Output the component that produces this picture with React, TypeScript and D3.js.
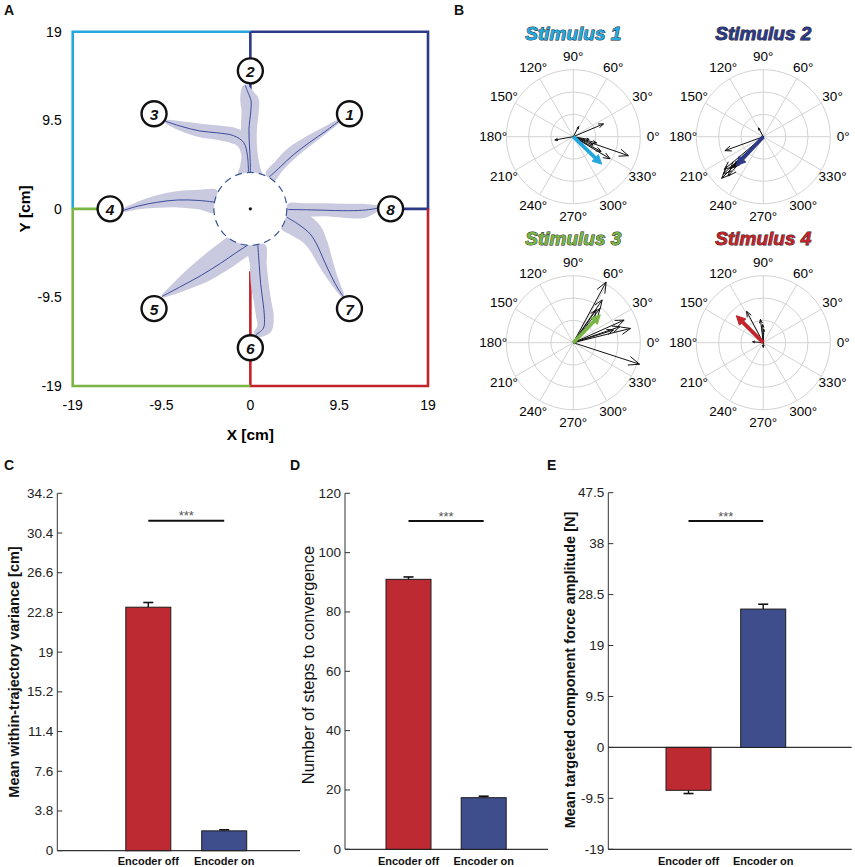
import * as d3 from "d3";

const FONT = "'Liberation Sans', Arial, Helvetica, sans-serif";
const CYAN = "#22a8df";
const NAVY = "#2c3a88";
const RED = "#c4232b";
const GREEN = "#79b543";
const BAND = "#c9c9df";
const MEAN_LINE = "#3b4c9c";
const BAR_RED = "#be2a32";
const BAR_BLUE = "#3e4e8c";
const GRID = "#d3d3d3";

// ---- panel A: workspace (cm) ----
const POS_TICKS = [-19, -9.5, 0, 9.5, 19];
const TARGETS: [number, number][] = [
  [10.6, 10.2], [0, 14.8], [-10.3, 10.2], [-15.0, 0],
  [-10.3, -10.7], [0, -14.9], [10.6, -10.7], [15.0, 0],
];
// quadrant borders per stimulus
const BORDER_CYAN: [number, number][] = [[-19, 0], [-19, 19], [0, 19]];
const BORDER_NAVY: [number, number][] = [[0, 19], [19, 19], [19, 0], [15, 0]];
const BORDER_NAVY_MID: [number, number][] = [[0, 19], [0, 12.7]];
const BORDER_RED: [number, number][] = [[19, 0], [19, -19], [0, -19], [0, -6.7]];
const BORDER_GREEN: [number, number][] = [[0, -19], [-19, -19], [-19, 0], [-15, 0]];

// trajectories: [x, y, left half-width, right half-width] in cm, centre -> target
const TRAJ_1 = [[2.0, 3.4, 0.55, 0.65], [3.2, 4.5, 0.8, 0.45], [4.6, 5.8, 0.9, 0.4], [6.3, 7.1, 0.75, 0.35], [8.0, 8.3, 0.5, 0.25], [9.6, 9.5, 0.1, 0.1]];
const TRAJ_2 = [[0, 3.6, 1.3, 1.2], [0, 4.6, 1.1, 1.0], [-0.07, 6.3, 0.8, 0.8], [-0.15, 8.5, 0.85, 0.85], [0.05, 10.5, 1.0, 0.85], [0.07, 11.6, 1.15, 0.85], [-0.3, 12.6, 0.8, 0.5], [-0.55, 13.25, 0.3, 0.2]];
const TRAJ_3 = [[-0.2, 3.8, 0.5, 0.5], [-0.3, 5.6, 0.6, 0.6], [-0.7, 7.1, 0.75, 0.95], [-1.8, 7.85, 0.85, 0.85], [-3.5, 8.15, 0.75, 0.8], [-5.4, 8.35, 0.65, 0.8], [-7.4, 8.85, 0.5, 0.55], [-9.1, 9.4, 0.12, 0.12]];
const TRAJ_4 = [[-3.7, 0.7, 1.1, 1.3], [-5.5, 0.9, 0.95, 1.15], [-7.8, 0.95, 0.8, 0.95], [-10.0, 0.7, 0.6, 0.75], [-12.0, 0.3, 0.35, 0.45], [-13.7, -0.2, 0.1, 0.1]];
const TRAJ_5 = [[-0.3, -3.9, 0.8, 1.9], [-1.6, -4.75, 1.0, 1.9], [-3.2, -5.85, 1.0, 1.8], [-5.2, -7.1, 0.9, 1.5], [-7.2, -8.2, 0.6, 0.95], [-8.6, -8.95, 0.35, 0.45], [-9.45, -9.4, 0.1, 0.1]];
const TRAJ_6 = [[0.8, -3.9, 0.8, 1.0], [0.95, -6.0, 0.8, 1.0], [1.1, -8.0, 0.85, 1.05], [1.35, -10.0, 0.9, 0.95], [1.5, -11.5, 1.0, 0.9], [1.4, -12.8, 0.9, 0.7], [0.6, -13.5, 0.3, 0.3]];
const TRAJ_7 = [[3.9, -0.9, 0.9, 1.3], [5.2, -1.7, 1.4, 1.4], [6.4, -2.7, 1.4, 1.2], [7.2, -4.0, 1.15, 0.95], [7.9, -5.6, 0.9, 0.75], [8.7, -7.3, 0.6, 0.5], [9.4, -8.6, 0.4, 0.3], [10.0, -9.5, 0.1, 0.1]];
const TRAJ_8 = [[4.0, -0.07, 0.6, 0.75], [6.0, -0.1, 0.7, 0.75], [8.0, -0.15, 0.75, 0.65], [10.0, -0.2, 0.75, 0.75], [12.0, -0.15, 0.7, 0.85], [13.2, 0, 0.45, 0.5], [13.9, 0.15, 0.15, 0.15]];
const TRAJECTORIES = [TRAJ_1, TRAJ_2, TRAJ_3, TRAJ_4, TRAJ_5, TRAJ_6, TRAJ_7, TRAJ_8];
const CENTER_RADIUS = 3.9;

// ---- panel B: compass plots, [angle deg, normalised length] ----
const ANGLE_TICKS = d3.range(0, 360, 30);
const STIM1_ARROWS = [[23, 0.49], [190, 0.28], [62, 0.17], [341, 0.87], [329, 0.64], [345, 0.36], [337, 0.32], [332, 0.47], [350, 0.24]];
const STIM1_MEAN = [316, 0.59];
const STIM2_ARROWS = [[200, 0.61], [119, 0.15], [225, 0.88], [223, 0.82], [220, 0.76], [224, 0.69], [228, 0.79], [226, 0.64]];
const STIM2_MEAN = [227, 0.59];
const STIM3_ARROWS = [[61.6, 1.03], [56, 0.77], [52, 0.65], [55, 0.6], [24, 0.83], [14, 0.88], [19, 0.74], [17.5, 0.63], [342, 1.04]];
const STIM3_MEAN = [46, 0.58];
const STIM4_ARROWS = [[118, 0.53], [97, 0.35], [92, 0.27], [88, 0.2], [175, 0.16], [270, 0.07]];
const STIM4_MEAN = [135, 0.57];

// ---- panels C-E ----
const CATEGORIES = ["Encoder off", "Encoder on"];
const VARIANCE_MEAN = [23.3, 1.9];
const VARIANCE_ERR = [0.45, 0.1];
const VARIANCE_TICKS = [0, 3.8, 7.6, 11.4, 15.2, 19, 22.8, 26.6, 30.4, 34.2];
const STEPS_MEAN = [91.0, 17.4];
const STEPS_ERR = [0.8, 0.5];
const STEPS_TICKS = [0, 20, 40, 60, 80, 100, 120];
const FORCE_MEAN = [-8.0, 25.8];
const FORCE_ERR = [0.6, 0.9];
const FORCE_TICKS = [-19, -9.5, 0, 9.5, 19, 28.5, 38, 47.5];

const posX = d3.scaleLinear().domain([-19, 19]).range([72.7, 428]);
const posY = d3.scaleLinear().domain([-19, 19]).range([386, 31.7]);
const pxLine = d3.line<[number, number]>().x((d) => posX(d[0])).y((d) => posY(d[1]));

function bandPath(pts: number[][]) {
  const left: [number, number][] = [];
  const right: [number, number][] = [];
  pts.forEach((p, i) => {
    const a = pts[Math.max(0, i - 1)];
    const b = pts[Math.min(pts.length - 1, i + 1)];
    const tx = b[0] - a[0];
    const ty = b[1] - a[1];
    const len = Math.hypot(tx, ty) || 1;
    const nx = -ty / len;
    const ny = tx / len;
    left.push([p[0] + nx * p[2], p[1] + ny * p[2]]);
    right.push([p[0] - nx * p[3], p[1] - ny * p[3]]);
  });
  const poly = left.concat(right.reverse());
  return d3.line<[number, number]>().x((d) => posX(d[0])).y((d) => posY(d[1])).curve(d3.curveCatmullRomClosed)(poly) ?? "";
}

function PanelA() {
  const meanLine = d3.line<number[]>().x((d) => posX(d[0])).y((d) => posY(d[1])).curve(d3.curveCatmullRom);
  const borders: [[number, number][], string][] = [
    [BORDER_CYAN, CYAN], [BORDER_NAVY, NAVY], [BORDER_NAVY_MID, NAVY], [BORDER_RED, RED], [BORDER_GREEN, GREEN],
  ];
  const rPx = posX(CENTER_RADIUS) - posX(0);
  return (
    <g>
      {borders.map(([pts, c], i) => (
        <path key={i} d={pxLine(pts) ?? ""} fill="none" stroke={c} strokeWidth={2.6} strokeLinejoin="miter" />
      ))}
      {TRAJECTORIES.map((t, i) => (
        <path key={i} d={bandPath(t)} fill={BAND} />
      ))}
      {TRAJECTORIES.map((t, i) => (
        <path key={i} d={meanLine(t) ?? ""} fill="none" stroke={MEAN_LINE} strokeWidth={1} />
      ))}
      <circle cx={posX(0)} cy={posY(0)} r={rPx} fill="#fff" stroke="#3a5796" strokeWidth={1.2} strokeDasharray="7 5" />
      <circle cx={posX(0)} cy={posY(0)} r={1.6} fill="#111" />
      {TARGETS.map(([x, y], i) => (
        <g key={i}>
          <circle cx={posX(x)} cy={posY(y)} r={12.5} fill="#fff" stroke="#111" strokeWidth={2.4} />
          <text x={posX(x)} y={posY(y) + 1} textAnchor="middle" dominantBaseline="central" fontSize={15.5} fontWeight="bold" fontStyle="italic" fill="#111">
            {i + 1}
          </text>
        </g>
      ))}
      {POS_TICKS.map((t) => (
        <text key={`x${t}`} x={posX(t)} y={405} textAnchor="middle" dominantBaseline="central" fontSize={14}>
          {t}
        </text>
      ))}
      {POS_TICKS.map((t) => (
        <text key={`y${t}`} x={61.7} y={posY(t)} textAnchor="end" dominantBaseline="central" fontSize={14}>
          {t}
        </text>
      ))}
      <text x={posX(0)} y={434} textAnchor="middle" dominantBaseline="central" fontSize={15.5} fontWeight="bold">
        X [cm]
      </text>
      <text x={25} y={posY(0)} textAnchor="middle" dominantBaseline="central" fontSize={15.5} fontWeight="bold" transform={`rotate(-90 25 ${posY(0)})`}>
        Y [cm]
      </text>
    </g>
  );
}

function Compass({ cx, cy, title, color, arrows, mean, titleY }: { cx: number; cy: number; title: string; color: string; arrows: number[][]; mean: number[]; titleY: number }) {
  const r = d3.scaleLinear().domain([0, 1]).range([0, 67]);
  const pt = (deg: number, len: number): [number, number] => {
    const a = (deg * Math.PI) / 180;
    return [cx + r(len) * Math.cos(a), cy - r(len) * Math.sin(a)];
  };
  const arms = (deg: number, len: number) => {
    const [tx, ty] = pt(deg, len);
    const head = Math.max(2.5, r(len) * 0.17);
    return [deg + 180 - 22, deg + 180 + 22].map((b) => {
      const a = (b * Math.PI) / 180;
      return [tx + head * Math.cos(a), ty - head * Math.sin(a)];
    });
  };
  const [mx, my] = pt(mean[0], mean[1]);
  const ma = (mean[0] * Math.PI) / 180;
  const headLen = 9;
  const bx = mx - headLen * Math.cos(ma);
  const by = my + headLen * Math.sin(ma);
  const px = Math.sin(ma) * 4.5;
  const py = Math.cos(ma) * 4.5;
  return (
    <g>
      <text x={cx} y={titleY} textAnchor="middle" dominantBaseline="central" fontSize={19} fontWeight="bold" fontStyle="italic" fill={color} stroke="#222" strokeWidth={0.9} paintOrder="stroke">
        {title}
      </text>
      {[1 / 3, 2 / 3, 1].map((k) => (
        <circle key={k} cx={cx} cy={cy} r={r(k)} fill="none" stroke={GRID} strokeWidth={1} />
      ))}
      {ANGLE_TICKS.map((a) => {
        const [x, y] = pt(a, 1);
        const [lx, ly] = pt(a, 80 / 67);
        return (
          <g key={a}>
            <line x1={cx} y1={cy} x2={x} y2={y} stroke={GRID} strokeWidth={1} />
            <text x={lx} y={ly} textAnchor="middle" dominantBaseline="central" fontSize={13.5}>
              {a}°
            </text>
          </g>
        );
      })}
      {arrows.map(([a, l], i) => {
        const [tx, ty] = pt(a, l);
        const [h1, h2] = arms(a, l);
        return (
          <path key={i} d={`M${cx},${cy}L${tx},${ty}M${h1[0]},${h1[1]}L${tx},${ty}L${h2[0]},${h2[1]}`} fill="none" stroke="#111" strokeWidth={1} />
        );
      })}
      <line x1={cx} y1={cy} x2={bx} y2={by} stroke={color} strokeWidth={3.8} />
      <path d={`M${mx},${my}L${bx + px},${by + py}L${bx - px},${by - py}Z`} fill={color} stroke={color} strokeWidth={1} strokeLinejoin="round" />
    </g>
  );
}

type BarProps = {
  axisX: number;
  axisEnd: number;
  top: number;
  bottom: number;
  domain: [number, number];
  ticks: number[];
  centers: [number, number];
  means: number[];
  errs: number[];
  sigY: number;
  yLabel: string;
  yLabelX: number;
  yLabelY: number;
  yLabelBold: boolean;
  yLabelSize: number;
};

function BarPanel(p: BarProps) {
  const y = d3.scaleLinear().domain(p.domain).range([p.bottom, p.top]);
  const x = d3.scalePoint<string>().domain(CATEGORIES).range(p.centers);
  const bw = 45;
  const colors = [BAR_RED, BAR_BLUE];
  return (
    <g>
      <line x1={p.axisX} y1={y(p.domain[0])} x2={p.axisX} y2={y(p.domain[1])} stroke="#333" strokeWidth={1} />
      <line x1={p.axisX} y1={y(p.domain[0])} x2={p.axisEnd} y2={y(p.domain[0])} stroke="#333" strokeWidth={1.2} />
      {p.domain[0] < 0 && <line x1={p.axisX} y1={y(0)} x2={p.axisEnd} y2={y(0)} stroke="#333" strokeWidth={1.2} />}
      {p.ticks.map((t) => (
        <g key={t}>
          <line x1={p.axisX} x2={p.axisX + 5} y1={y(t)} y2={y(t)} stroke="#333" strokeWidth={1} />
          <text x={p.axisX - 4} y={y(t)} textAnchor="end" dominantBaseline="central" fontSize={13.5} fill="#222">
            {t}
          </text>
        </g>
      ))}
      {CATEGORIES.map((c, i) => {
        const cx = x(c) ?? 0;
        const v = p.means[i];
        const e = p.errs[i];
        const tip = v >= 0 ? v + e : v - e;
        return (
          <g key={c}>
            <line x1={cx} x2={cx} y1={y(v)} y2={y(tip)} stroke="#111" strokeWidth={1.4} />
            <line x1={cx - 5} x2={cx + 5} y1={y(tip)} y2={y(tip)} stroke="#111" strokeWidth={1.6} />
            <rect x={cx - bw / 2} y={Math.min(y(0), y(v))} width={bw} height={Math.abs(y(0) - y(v))} fill={colors[i]} stroke="#1c1c1c" strokeWidth={1} />
            <text x={cx} y={861} textAnchor="middle" dominantBaseline="central" fontSize={11} fontWeight="bold" fill="#111">
              {c}
            </text>
          </g>
        );
      })}
      <line x1={p.centers[0]} x2={p.centers[1]} y1={p.sigY} y2={p.sigY} stroke="#111" strokeWidth={2} />
      <text x={(p.centers[0] + p.centers[1]) / 2} y={p.sigY - 5} textAnchor="middle" dominantBaseline="central" fontSize={13} fill="#555">
        ***
      </text>
      <text
        x={p.yLabelX}
        y={p.yLabelY}
        textAnchor="middle"
        dominantBaseline="central"
        fontSize={p.yLabelSize}
        fontWeight={p.yLabelBold ? "bold" : "normal"}
        fill="#111"
        transform={`rotate(-90 ${p.yLabelX} ${p.yLabelY})`}
      >
        {p.yLabel}
      </text>
    </g>
  );
}

export default function App() {
  const letter = (t: string, x: number, y: number) => (
    <text x={x} y={y} dominantBaseline="central" fontSize={14} fontWeight="bold" fill="#111">
      {t}
    </text>
  );
  return (
    <svg width={855} height={867} viewBox="0 0 855 867" style={{ position: "absolute", left: 0, top: 0, background: "#fff" }} fontFamily={FONT}>
      <rect width={855} height={867} fill="#fff" />
      {letter("A", 4, 10)}
      {letter("B", 454, 10)}
      {letter("C", 4, 465)}
      {letter("D", 290, 465)}
      {letter("E", 547, 465)}
      <PanelA />
      <Compass cx={573.3} cy={136.7} titleY={33} title="Stimulus 1" color={CYAN} arrows={STIM1_ARROWS} mean={STIM1_MEAN} />
      <Compass cx={763.3} cy={136.7} titleY={33} title="Stimulus 2" color={NAVY} arrows={STIM2_ARROWS} mean={STIM2_MEAN} />
      <Compass cx={573.3} cy={342.7} titleY={238} title="Stimulus 3" color={GREEN} arrows={STIM3_ARROWS} mean={STIM3_MEAN} />
      <Compass cx={763.3} cy={342.7} titleY={238} title="Stimulus 4" color={RED} arrows={STIM4_ARROWS} mean={STIM4_MEAN} />
      <BarPanel
        axisX={57.3} axisEnd={300} top={493.3} bottom={850.7} domain={[0, 34.2]} ticks={VARIANCE_TICKS}
        centers={[148.3, 224.2]} means={VARIANCE_MEAN} errs={VARIANCE_ERR} sigY={520.7}
        yLabel="Mean within-trajectory variance [cm]" yLabelX={13.5} yLabelY={672} yLabelBold yLabelSize={14.5}
      />
      <BarPanel
        axisX={345} axisEnd={548} top={493.3} bottom={849.3} domain={[0, 120]} ticks={STEPS_TICKS}
        centers={[408.5, 483.7]} means={STEPS_MEAN} errs={STEPS_ERR} sigY={521}
        yLabel="Number of steps to convergence" yLabelX={308} yLabelY={665} yLabelBold={false} yLabelSize={16.5}
      />
      <BarPanel
        axisX={608.3} axisEnd={851.7} top={492.7} bottom={849.3} domain={[-19, 47.5]} ticks={FORCE_TICKS}
        centers={[688.5, 763.2]} means={FORCE_MEAN} errs={FORCE_ERR} sigY={521}
        yLabel="Mean targeted component force amplitude [N]" yLabelX={570} yLabelY={670} yLabelBold yLabelSize={14.5}
      />
    </svg>
  );
}
